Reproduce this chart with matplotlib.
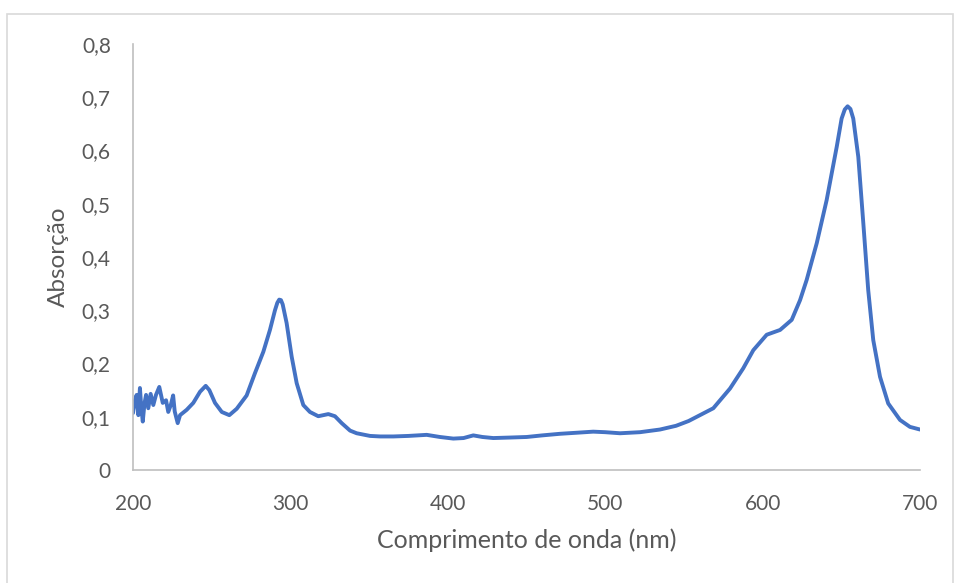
import matplotlib
matplotlib.use("Agg")
import matplotlib.pyplot as plt
from matplotlib.patches import Rectangle

# espectro
comprimento = [200.0, 201.2, 202.3, 203.4, 204.4, 205.2, 206.2, 207.3, 208.3, 209.7,
               211.2, 212.9, 214.6, 216.7, 218.9, 221.0, 222.4, 224.0, 225.5, 226.5,
               228.4, 229.9, 234.1, 238.3, 242.6, 246.2, 248.5, 252.1, 256.4, 261.2,
               265.9, 272.2, 277.5, 282.8, 287.0, 290.2, 291.7, 292.9, 294.0, 295.1,
               297.6, 300.8, 304.0, 308.2, 312.4, 317.7, 324.1, 328.3, 332.6, 337.9,
               342.1, 350.6, 357.0, 365.4, 375.0, 386.6, 395.0, 403.5, 410.0, 416.2,
               422.0, 428.9, 440.0, 450.1, 460.0, 471.3, 482.0, 492.4, 500.0, 509.4,
               522.1, 534.8, 545.0, 553.0, 560.2, 568.7, 579.3, 587.7, 594.1, 602.6,
               611.1, 618.5, 623.8, 628.0, 634.4, 640.7, 647.1, 650.2, 652.2, 654.0,
               655.8, 657.6, 660.8, 664.0, 667.1, 670.3, 674.6, 679.8, 687.3, 693.6,
               700.0]
absorcao = [0.107, 0.130, 0.141, 0.103, 0.154, 0.120, 0.091, 0.125, 0.141, 0.116,
            0.143, 0.122, 0.141, 0.156, 0.126, 0.131, 0.109, 0.122, 0.140, 0.110,
            0.088, 0.103, 0.113, 0.126, 0.147, 0.158, 0.150, 0.126, 0.109, 0.103,
            0.115, 0.140, 0.182, 0.222, 0.263, 0.300, 0.314, 0.320, 0.319, 0.311,
            0.276, 0.213, 0.163, 0.122, 0.109, 0.101, 0.105, 0.101, 0.088, 0.074,
            0.069, 0.064, 0.063, 0.063, 0.064, 0.066, 0.062, 0.059, 0.060, 0.065,
            0.062, 0.060, 0.061, 0.062, 0.065, 0.068, 0.070, 0.072, 0.071, 0.069,
            0.071, 0.076, 0.083, 0.092, 0.103, 0.116, 0.153, 0.191, 0.225, 0.254,
            0.263, 0.282, 0.319, 0.357, 0.426, 0.507, 0.607, 0.660, 0.677, 0.683,
            0.678, 0.660, 0.588, 0.463, 0.338, 0.244, 0.175, 0.125, 0.094, 0.081,
            0.076]

xticks = [200, 300, 400, 500, 600, 700]
yticks = [0, 0.1, 0.2, 0.3, 0.4, 0.5, 0.6, 0.7, 0.8]
ylabels = ["0", "0,1", "0,2", "0,3", "0,4", "0,5", "0,6", "0,7", "0,8"]

cinza = "#595959"
plt.rcParams['font.family'] = ['Lato', 'DejaVu Sans']

fig = plt.figure(figsize=(9.55, 5.83), dpi=100)
# moldura do gráfico
fig.patches.append(Rectangle((7 / 955, -0.01), 946 / 955, 1 - 14 / 583 + 0.01,
                             transform=fig.transFigure, fill=False,
                             edgecolor="#D9D9D9", linewidth=1.2))

ax = fig.add_axes([133 / 955, 1 - 470 / 583, 787 / 955, 426 / 583])
ax.plot(comprimento, absorcao, color="#4472C4", linewidth=2.8,
        solid_joinstyle="round", solid_capstyle="round")

ax.set_xlim(200, 700)
ax.set_ylim(0, 0.8)
ax.set_xticks(xticks)
ax.set_yticks(yticks)
ax.set_yticklabels(ylabels)
ax.tick_params(length=0, labelsize=15, colors=cinza)
ax.tick_params(axis="x", pad=17)
ax.tick_params(axis="y", pad=16)

for lado in ["top", "right"]:
    ax.spines[lado].set_visible(False)
for lado in ["left", "bottom"]:
    ax.spines[lado].set_color("#BFBFBF")
    ax.spines[lado].set_linewidth(1.2)

ax.set_xlabel("Comprimento de onda (nm)", fontsize=18, color=cinza, labelpad=11)
ax.set_ylabel("Absorção", fontsize=17.5, color=cinza, labelpad=9)

fig.savefig("out.png", dpi=100)
